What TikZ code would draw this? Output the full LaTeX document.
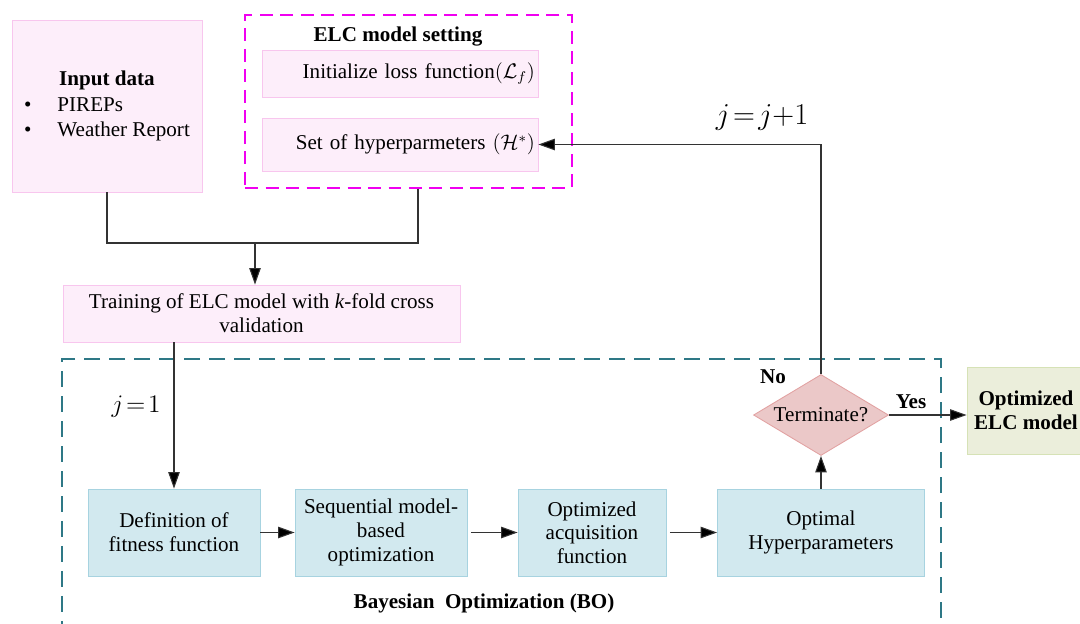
\documentclass[tikz,border=0pt]{standalone}
\usepackage{fontspec}
\setmainfont{Liberation Serif}
\usetikzlibrary{arrows.meta,shapes.geometric}

\definecolor{pinkfill}{HTML}{FDEEFA}
\definecolor{pinkline}{HTML}{F8C6EE}
\definecolor{bluefill}{HTML}{D2E9EF}
\definecolor{blueline}{HTML}{A7D3E0}
\definecolor{redfill}{HTML}{EBC8C8}
\definecolor{redline}{HTML}{E2A2A2}
\definecolor{olivefill}{HTML}{EBEEDB}
\definecolor{oliveline}{HTML}{D6E2B6}
\definecolor{magframe}{HTML}{F000F0}
\definecolor{tealframe}{HTML}{2E7886}

\begin{document}
\begin{tikzpicture}[x=0.02cm, y=-0.02cm, font=\fontsize{12}{13.5}\selectfont,
    pinkbox/.style={draw=pinkline, fill=pinkfill, line width=0.5pt, inner sep=0pt},
    bluebox/.style={draw=blueline, fill=bluefill, line width=0.5pt, align=center,
      minimum height=1.74cm, inner sep=0pt},
    boldtext/.style={font=\fontsize{12}{13.5}\selectfont\bfseries},
    arrow/.style={draw=black!80, line width=0.6pt, -{Triangle[length=0.33cm,width=0.23cm,fill=black]}},
    link/.style={draw=black!80, line width=0.6pt}]
    \useasboundingbox (0,0) rectangle (1080,623);
    \clip (0,0) rectangle (1080,623);

    % Frames
    \node[draw=magframe, line width=1.1pt, dash pattern=on 0.26cm off 0.15cm,
          minimum width=6.54cm, minimum height=3.46cm] (elcbox) at (408.5,101.5) {};
    \node[draw=tealframe, line width=1.1pt, dash pattern=on 0.32cm off 0.18cm,
          minimum width=17.58cm, minimum height=5.6cm] (bobox) at (501.5,499) {};

    % Inputs
    \node[pinkbox, minimum width=3.8cm, minimum height=3.44cm] (inputdata) at (107,106)
      {\renewcommand{\arraystretch}{1.08}%
       \begin{tabular}{@{}l@{\hspace{0.52cm}}l@{}}
         \multicolumn{2}{c}{\textbf{Input data}}\\
         \textbullet & PIREPs\\
         \textbullet & Weather Report
       \end{tabular}};
    \node[boldtext] (elctitle) at (398,37) {ELC model setting};
    \node[pinkbox, minimum width=5.52cm, minimum height=0.94cm, text width=5.4cm, align=right] (lossbox) at (400,73.5)
      {Initialize loss function$\left(\mathcal{L}_f\right)$};
    \node[pinkbox, minimum width=5.52cm, minimum height=1.06cm, text width=5.4cm, align=right] (hyperbox) at (400,144.5)
      {Set of hyperparmeters $\left(\mathcal{H}^{*}\right)$};
    \coordinate (join) at (255,243);
    \node[pinkbox, minimum width=7.94cm, minimum height=1.14cm, align=center] (training) at (261.5,313.5)
      {Training of ELC model with \textit{k}-fold cross\\validation};

    % Bayesian optimization
    \node[bluebox, minimum width=3.44cm] (fitness) at (174,532.5) {Definition of\\fitness function};
    \node[bluebox, minimum width=3.44cm] (smbo) at (381,532.5) {Sequential model-\\based\\optimization};
    \node[bluebox, minimum width=2.96cm] (acq) at (592,532.5) {Optimized\\acquisition\\function};
    \node[bluebox, minimum width=4.14cm] (optimal) at (821,532.5) {Optimal\\Hyperparameters};
    \node[diamond, draw=redline, fill=redfill, line width=0.5pt, aspect=1.67, inner sep=0pt,
          minimum width=2.7cm, minimum height=1.62cm] (terminate) at (821,415) {Terminate?};
    \node[boldtext, draw=oliveline, fill=olivefill, line width=0.5pt, align=center,
          minimum width=2.36cm, minimum height=1.74cm, inner sep=0pt] (optelc) at (1026,410.5)
      {Optimized\\ELC model};
    \node[boldtext] (bolabel) at (484,603) {Bayesian\ \ Optimization (BO)};

    % Labels
    \node (jone) at (136,407) {\fontsize{14}{16}\selectfont $j\mkern2mu{=}\mkern2mu1$};
    \node (jnext) at (762,117) {\fontsize{17}{20}\selectfont $j\mkern2mu{=}\mkern2mu j{+}1$};
    \node[boldtext] (nolabel) at (773,377) {No};
    \node[boldtext] (yeslabel) at (911,402) {Yes};

    % Connections
    \draw[link] (inputdata.south) |- (join);
    \draw[link] ([xshift=0.19cm]elcbox.south) |- (join);
    \draw[arrow] (join) -- (training.north -| join);
    \draw[arrow] (training.south -| fitness.north) -- (fitness.north);
    \draw[arrow] (fitness) -- (smbo);
    \draw[arrow, shorten <=2pt] (smbo) -- (acq);
    \draw[arrow, shorten <=2pt] (acq) -- (optimal);
    \draw[arrow] (optimal) -- (terminate);
    \draw[arrow] (terminate.north) |- (hyperbox.east);
    \draw[arrow] (terminate.east) -- (terminate.east -| optelc.west);
\end{tikzpicture}
\end{document}
